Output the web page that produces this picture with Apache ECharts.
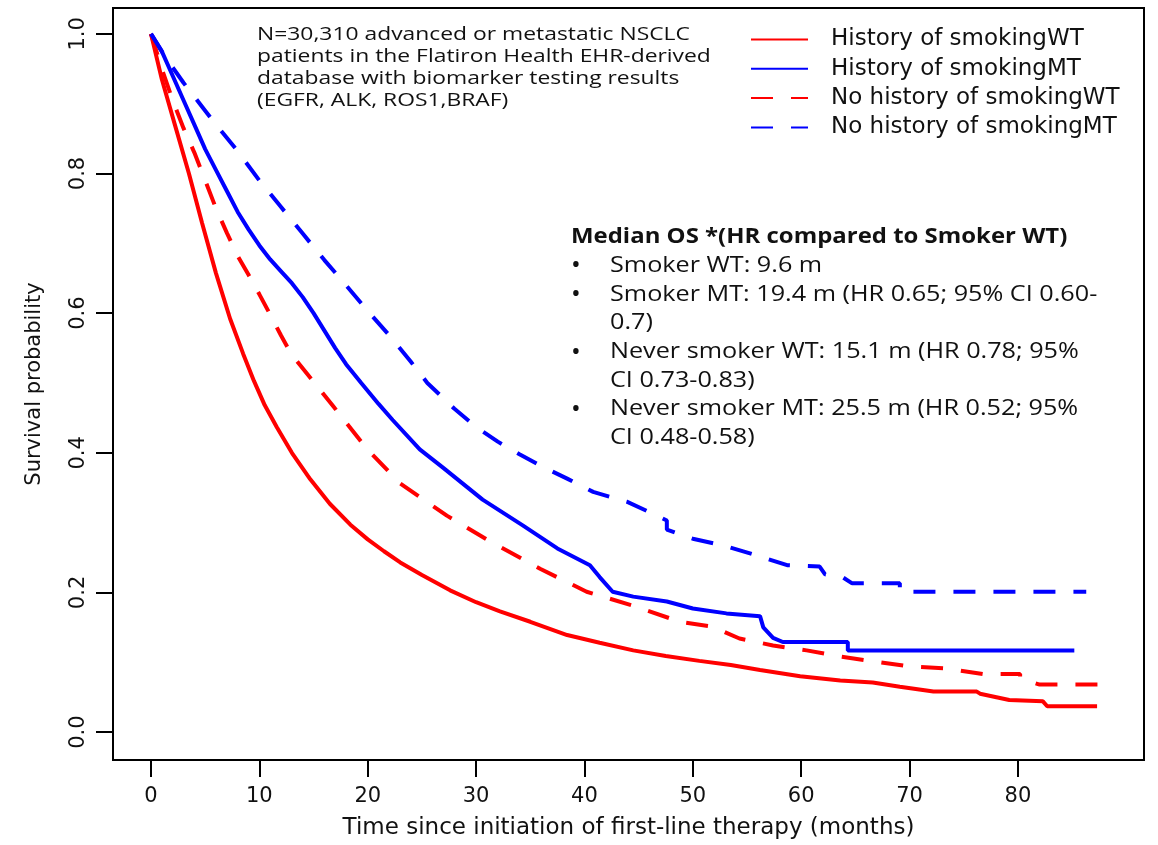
<!DOCTYPE html>
<html>
<head>
<meta charset="utf-8">
<script src="https://cdn.jsdelivr.net/npm/echarts@6/dist/echarts.min.js"></script>
<style>
  html, body { margin: 0; padding: 0; background: #fff; }
  #chart { width: 1158px; height: 845px; }
</style>
</head>
<body>
<div id="chart"></div>
<script>
// tick labels
const xTicks = [0, 10, 20, 30, 40, 50, 60, 70, 80];
const yTicks = [0, 0.2, 0.4, 0.6, 0.8, 1.0];

const seriesNames = [
  "History of smokingWT",
  "History of smokingMT",
  "No history of smokingWT",
  "No history of smokingMT"
];

// KM curves (months, survival probability)
const smokerWT_t = [0, 1, 2.2, 3.5, 4.7, 6, 7.3, 8.5, 9.5, 10.5, 11.6, 13, 14.7, 16.5, 18.4, 20, 21.5, 23, 25, 27.6, 30, 32.2, 35, 38.4, 41.4, 44.5, 47.5, 50.6, 53.5, 56.2, 59.9, 63.6, 66.6, 69.1, 72.2, 76.2, 76.5, 79.2, 82.3, 82.7, 87.3];
const smokerWT_s = [1.0, 0.935, 0.87, 0.80, 0.73, 0.657, 0.592, 0.542, 0.503, 0.468, 0.437, 0.40, 0.362, 0.327, 0.297, 0.276, 0.259, 0.243, 0.225, 0.203, 0.186, 0.173, 0.158, 0.139, 0.128, 0.117, 0.109, 0.102, 0.096, 0.089, 0.080, 0.074, 0.071, 0.065, 0.058, 0.058, 0.055, 0.046, 0.044, 0.037, 0.037];

const smokerMT_t = [0, 1, 2, 3, 4, 5, 6, 7, 8, 9, 10, 11, 12, 13, 14, 15, 16, 17, 18, 19.4, 21, 22.3, 24.8, 27, 30.6, 34.3, 37.5, 40.5, 41.4, 42.6, 44.5, 47.6, 50, 53.1, 56.2, 56.5, 57.4, 58.3, 64.3, 64.3, 85.2];
const smokerMT_s = [1.0, 0.975, 0.94, 0.905, 0.87, 0.835, 0.805, 0.775, 0.745, 0.72, 0.697, 0.677, 0.66, 0.643, 0.623, 0.60, 0.575, 0.55, 0.527, 0.50, 0.47, 0.447, 0.405, 0.378, 0.333, 0.296, 0.263, 0.239, 0.222, 0.201, 0.194, 0.187, 0.177, 0.170, 0.166, 0.150, 0.135, 0.129, 0.129, 0.117, 0.117];

const neverWT_t = [0, 1, 2, 3, 4, 5, 6, 7, 8, 9, 10, 11, 12, 13, 15.1, 16.8, 19.9, 23, 27.3, 31.3, 35.9, 40.2, 44.5, 48.8, 51.8, 54.3, 57.4, 60.5, 63.7, 66.8, 70, 73.4, 76.8, 80.2, 80.2, 82, 87.5];
const neverWT_s = [1.0, 0.95, 0.905, 0.865, 0.83, 0.79, 0.75, 0.715, 0.682, 0.655, 0.627, 0.598, 0.568, 0.54, 0.50, 0.467, 0.406, 0.356, 0.31, 0.273, 0.234, 0.201, 0.181, 0.158, 0.151, 0.134, 0.124, 0.117, 0.108, 0.101, 0.094, 0.091, 0.083, 0.083, 0.077, 0.068, 0.068];

const neverMT_t = [0, 1, 2, 3, 4, 5, 6, 8, 10, 12, 14, 16, 18, 20, 22, 24, 25.5, 28, 30, 32, 34, 36, 38.4, 40.8, 43.9, 46, 47.6, 47.6, 50, 53.1, 55.9, 58.7, 61.7, 62.2, 63.8, 64.7, 69.1, 69.1, 86.3];
const neverMT_s = [1.0, 0.975, 0.952, 0.93, 0.91, 0.89, 0.87, 0.832, 0.79, 0.752, 0.714, 0.676, 0.64, 0.603, 0.568, 0.53, 0.50, 0.463, 0.437, 0.416, 0.398, 0.381, 0.363, 0.344, 0.33, 0.315, 0.303, 0.29, 0.277, 0.266, 0.253, 0.239, 0.237, 0.226, 0.222, 0.213, 0.213, 0.201, 0.201];

const noteLines = [
  "N=30,310 advanced or metastatic NSCLC",
  "patients in the Flatiron Health EHR-derived",
  "database with biomarker testing results",
  "(EGFR, ALK, ROS1,BRAF)"
];

const medianTitle = "Median OS *(HR compared to Smoker WT)";
const medianLines = [
  ["•", "Smoker WT: 9.6 m"],
  ["•", "Smoker MT: 19.4 m (HR 0.65; 95% CI 0.60-"],
  ["", "0.7)"],
  ["•", "Never smoker WT: 15.1 m (HR 0.78; 95%"],
  ["", "CI 0.73-0.83)"],
  ["•", "Never smoker MT: 25.5 m (HR 0.52; 95%"],
  ["", "CI 0.48-0.58)"]
];

const rFont = "DejaVu Sans";
const noteFont = "Open Sans";

function pairs(t, s) {
  return t.map((v, i) => [v, s[i]]);
}

function kmSeries(name, t, s, color, dashed) {
  return {
    name: name,
    type: "line",
    data: pairs(t, s),
    showSymbol: false,
    symbol: "none",
    smooth: false,
    animation: false,
    lineStyle: {
      color: color,
      width: 4,
      type: dashed ? [22, 18] : "solid"
    },
    itemStyle: { color: color }
  };
}

const chart = echarts.init(document.getElementById("chart"));

// annotation text blocks (stretched sideways like the source image)
const graphics = [];
noteLines.forEach((line, i) => {
  graphics.push({
    type: "text",
    x: 257,
    y: 35 + i * 22,
    scaleX: 1.27,
    style: {
      text: line,
      font: "18px '" + noteFont + "'",
      fill: "#111",
      textVerticalAlign: "middle"
    }
  });
});
graphics.push({
  type: "text",
  x: 571,
  y: 237,
  scaleX: 1.14,
  style: {
    text: medianTitle,
    font: "bold 21px '" + noteFont + "'",
    fill: "#111",
    textVerticalAlign: "middle"
  }
});
medianLines.forEach((row, i) => {
  const y = 266 + i * 28.7;
  if (row[0]) {
    graphics.push({
      type: "text",
      x: 571,
      y: y,
      style: { text: row[0], font: "26px '" + noteFont + "'", fill: "#111", textVerticalAlign: "middle" }
    });
  }
  graphics.push({
    type: "text",
    x: 610,
    y: y,
    scaleX: 1.2,
    style: { text: row[1], font: "21px '" + noteFont + "'", fill: "#111", textVerticalAlign: "middle" }
  });
});

const option = {
  backgroundColor: "#fff",
  animation: false,
  grid: {
    left: 113,
    right: 14,
    top: 8,
    bottom: 83,
    show: true,
    borderColor: "#000",
    borderWidth: 2,
    backgroundColor: "transparent"
  },
  legend: {
    orient: "vertical",
    left: 750,
    top: 28,
    padding: 0,
    itemWidth: 57,
    itemHeight: 14,
    itemGap: 6.3,
    itemStyle: { color: "transparent", borderColor: "transparent", borderWidth: 0 },
    textStyle: {
      fontFamily: rFont,
      fontSize: 23,
      lineHeight: 22,
      color: "#111",
      padding: [0, 0, 0, 18]
    },
    data: seriesNames
  },
  xAxis: {
    type: "value",
    min: -3.506,
    max: 91.63,
    name: "Time since initiation of first-line therapy (months)",
    nameLocation: "middle",
    nameGap: 57,
    nameTextStyle: { fontFamily: rFont, fontSize: 23, color: "#111" },
    axisLine: { show: false, onZero: false },
    splitLine: { show: false },
    axisTick: {
      show: true,
      length: 17,
      customValues: xTicks,
      lineStyle: { color: "#000", width: 2 }
    },
    axisLabel: {
      customValues: xTicks,
      margin: 26,
      fontFamily: rFont,
      fontSize: 21,
      color: "#111"
    }
  },
  yAxis: {
    type: "value",
    min: -0.04,
    max: 1.0371,
    name: "Survival probability",
    nameLocation: "middle",
    nameGap: 68,
    nameTextStyle: { fontFamily: rFont, fontSize: 21, color: "#111" },
    axisLine: { show: false, onZero: false },
    splitLine: { show: false },
    axisTick: {
      show: true,
      length: 17,
      customValues: yTicks,
      lineStyle: { color: "#000", width: 2 }
    },
    axisLabel: {
      customValues: yTicks,
      rotate: 90,
      margin: 24,
      fontFamily: rFont,
      fontSize: 21,
      color: "#111",
      formatter: v => v.toFixed(1)
    }
  },
  series: [
    kmSeries(seriesNames[0], smokerWT_t, smokerWT_s, "#ff0000", false),
    kmSeries(seriesNames[1], smokerMT_t, smokerMT_s, "#0000ff", false),
    kmSeries(seriesNames[2], neverWT_t, neverWT_s, "#ff0000", true),
    kmSeries(seriesNames[3], neverMT_t, neverMT_s, "#0000ff", true)
  ],
  graphic: graphics
};

chart.setOption(option);
</script>
</body>
</html>
